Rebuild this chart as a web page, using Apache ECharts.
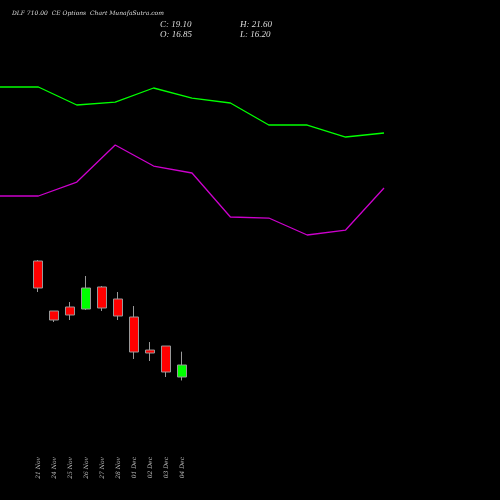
<!DOCTYPE html><html><head><meta charset="utf-8"><script src="https://cdn.jsdelivr.net/npm/echarts@6/dist/echarts.min.js"></script>
<style>html,body{margin:0;background:#000}#c{width:500px;height:500px}</style></head><body><div id="c"></div><script>
const categories=['21 Nov','24 Nov','25 Nov','26 Nov','27 Nov','28 Nov','01 Dec','02 Dec','03 Dec','04 Dec'];
// [open, close, low, high]
const opens=[38.60,29.23,29.98,29.60,33.73,31.48,28.10,21.91,22.66,16.85];
const closes=[33.54,27.54,28.48,33.54,29.79,28.29,21.54,21.35,17.79,19.10];
const lows=[32.79,27.16,27.54,29.41,29.23,27.54,20.23,19.85,16.85,16.20];
const highs=[38.79,29.23,30.91,35.79,33.91,32.79,30.16,23.41,22.66,21.60];
const greenLine=[71.23,71.23,67.85,68.41,71.04,69.16,68.23,64.10,64.10,61.85,62.60];
const purpleLine=[50.79,50.79,53.41,60.35,56.41,55.10,46.85,46.66,43.48,44.41,52.29];
const lineX=greenLine.map((_,i)=>i);
const candles=categories.map((_,i)=>[opens[i],closes[i],lows[i],highs[i]]);
const ymin=5.04,ymax=87.54;
const chart=echarts.init(document.getElementById('c'));
chart.setOption({backgroundColor:'#000',animation:false,
grid:[{left:30,width:160,top:0,height:440},{left:0,width:384,top:0,height:440}],
xAxis:[{type:'category',gridIndex:0,data:categories,axisLine:{show:false},axisTick:{show:false},
 axisLabel:{rotate:90,color:'#bbb',fontSize:6,fontFamily:'DejaVu Serif',fontStyle:'italic',margin:17,interval:0}},
 {type:'category',gridIndex:1,data:lineX,boundaryGap:false,show:false}],
yAxis:[{gridIndex:0,min:ymin,max:ymax,show:false},{gridIndex:1,min:ymin,max:ymax,show:false}],
series:[
{type:'line',xAxisIndex:1,yAxisIndex:1,data:greenLine,symbol:'none',lineStyle:{color:'#00ff00',width:1.3}},
{type:'line',xAxisIndex:1,yAxisIndex:1,data:purpleLine,symbol:'none',lineStyle:{color:'#cc00cc',width:1.3}},
{type:'candlestick',xAxisIndex:0,yAxisIndex:0,data:candles,barWidth:9,
 itemStyle:{color:'#00ff00',color0:'#ff0000',borderColor:'#999',borderColor0:'#999',borderWidth:1}}
],
graphic:[
{type:'text',left:12,top:10,style:{text:'DLF 710.00  CE Options  Chart MunafaSutra.com',fill:'#ddd',font:'italic 6px "DejaVu Serif"'}},
{type:'text',left:160,top:20,style:{text:'C: 19.10\nO: 16.85',fill:'#ddd',font:'italic 9px "Liberation Serif"',lineHeight:10}},
{type:'text',left:240,top:20,style:{text:'H: 21.60\nL: 16.20',fill:'#ddd',font:'italic 9px "Liberation Serif"',lineHeight:10}}
]});
</script></body></html>
